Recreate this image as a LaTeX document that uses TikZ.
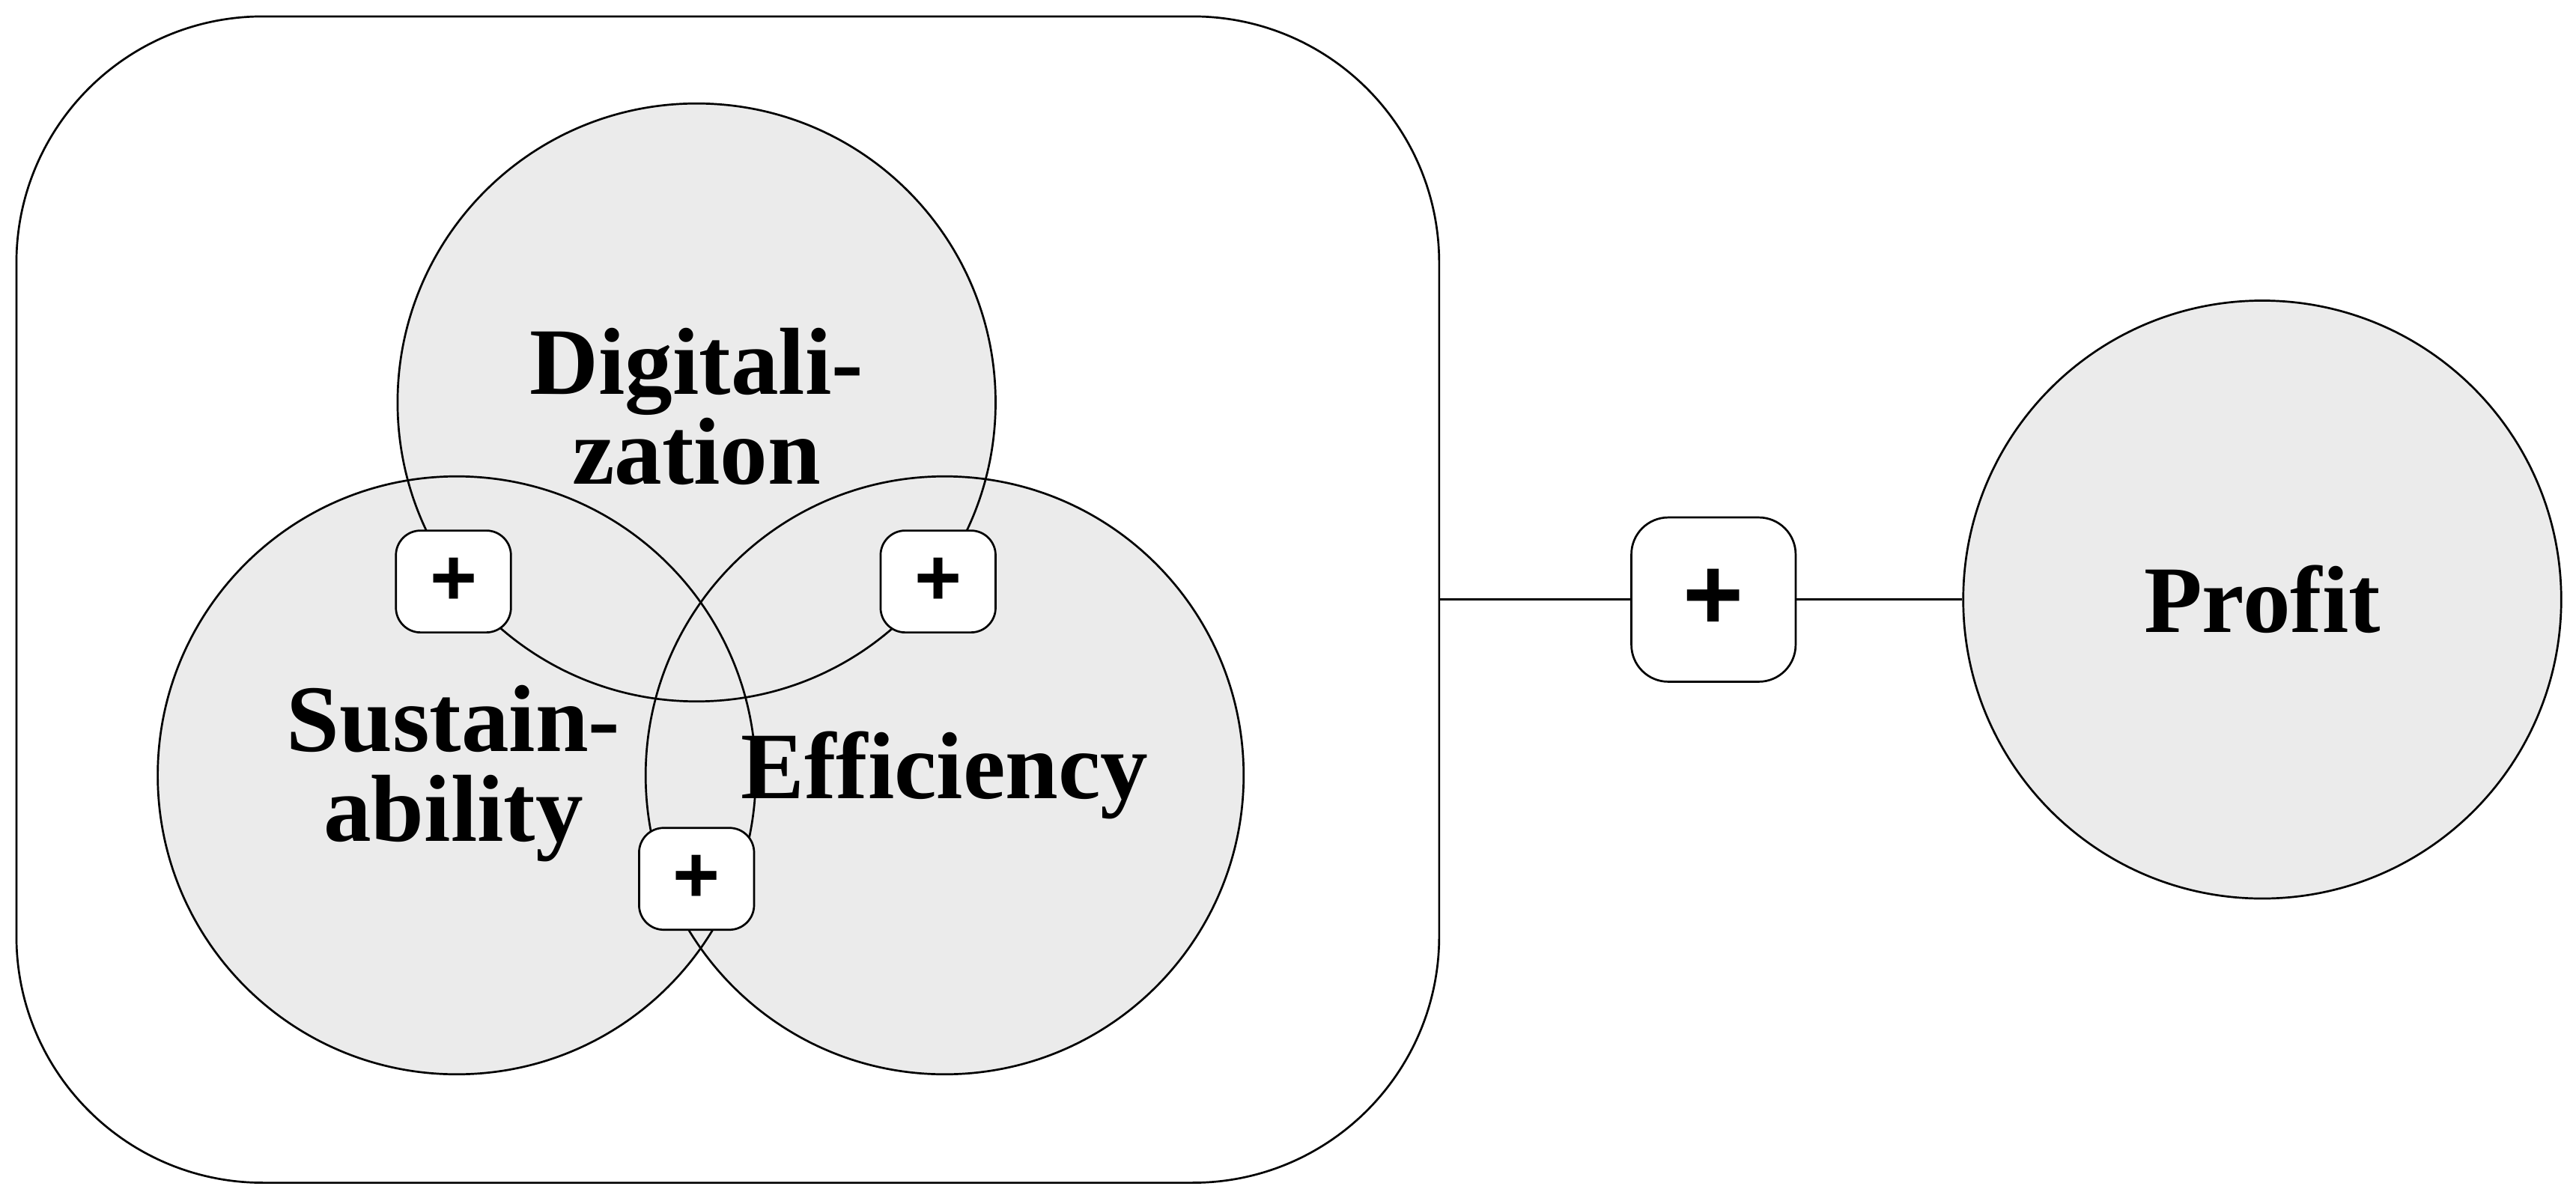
\documentclass[tikz,border=0pt]{standalone}
\usepackage{fontspec}
\setmainfont{Liberation Serif}
\newfontfamily\plusfont{Liberation Sans}
\begin{document}
\begin{tikzpicture}[line width=0.7pt,
  circ/.style={circle,fill=black!8,minimum size=7.28cm,inner sep=0pt},
  ring/.style={circle,draw=black,minimum size=7.28cm,inner sep=0pt},
  lbl/.style={font=\fontsize{33}{31}\selectfont\bfseries,align=center},
  pbox/.style={draw=black,fill=white,rounded corners=0.3cm,minimum width=1.4cm,minimum height=1.24cm,font=\plusfont\fontsize{28}{28}\selectfont\bfseries},
  bigbox/.style={draw=black,fill=white,rounded corners=0.45cm,minimum width=2cm,minimum height=2cm,font=\plusfont\fontsize{36}{36}\selectfont\bfseries}]
\useasboundingbox (0,0) rectangle (31.36,-14.62);
\draw[rounded corners=3cm] (0.2,-0.2) rectangle (17.52,-14.4);
\node[circ] (d) at (8.48,-4.9) {};
\node[circ] (s) at (5.56,-9.44) {};
\node[circ] (e) at (11.5,-9.44) {};
\node[ring] at (8.48,-4.9) {};
\node[ring] at (5.56,-9.44) {};
\node[ring] at (11.5,-9.44) {};
\node[lbl] (dl) at (8.48,-4.95) {Digitali-\\zation};
\node[lbl] (sl) at (5.52,-9.42) {Sustain-\\ability};
\node[lbl] (el) at (11.5,-9.44) {Efficiency};
\node[pbox] (p1) at (5.52,-7.08) {+};
\node[pbox] (p2) at (11.42,-7.08) {+};
\node[pbox] (p3) at (8.48,-10.7) {+};
\node[circ,draw=black] (pr) at (27.54,-7.3) {};
\node[lbl] at (pr) {Profit};
\node[bigbox] (pm) at (20.86,-7.3) {+};
\coordinate (re) at (17.52,-7.3);
\draw (re) -- (pm.west);
\draw (pm.east) -- (pr.west);
\end{tikzpicture}
\end{document}
